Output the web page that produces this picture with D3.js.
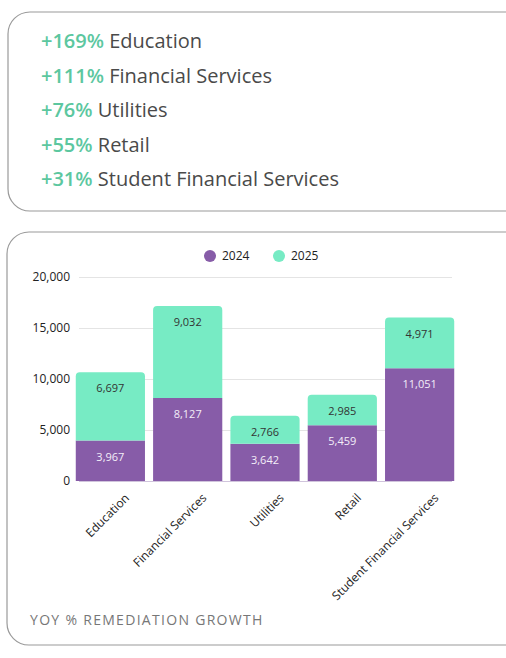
<!DOCTYPE html>
<html>
<head>
<meta charset="utf-8">
<script src="https://cdn.jsdelivr.net/npm/d3@7"></script>
<style>
  body { margin: 0; background: #fff; font-family: "Open Sans", sans-serif; }
</style>
</head>
<body>
<svg id="chart" width="506" height="658"></svg>
<script>
const categories = ['Education', 'Financial Services', 'Utilities', 'Retail', 'Student Financial Services'];
const values2024 = [3967, 8127, 3642, 5459, 11051];
const values2025 = [6697, 9032, 2766, 2985, 4971];
const growth = ['+169%', '+111%', '+76%', '+55%', '+31%'];
const yTicks = [0, 5000, 10000, 15000, 20000];

const svg = d3.select('#chart');
const purple = '#875ca8', green = '#77ebc4';

// cards
svg.append('rect').attr('x', 8).attr('y', 12).attr('width', 540).attr('height', 199)
  .attr('rx', 22).attr('fill', '#fff').attr('stroke', '#9a9a9a').attr('stroke-width', 1.2);
svg.append('rect').attr('x', 7).attr('y', 232).attr('width', 540).attr('height', 413)
  .attr('rx', 22).attr('fill', '#fff').attr('stroke', '#9a9a9a').attr('stroke-width', 1.2);

// growth list
const list = svg.append('g');
categories.forEach((c, i) => {
  const t = list.append('text').attr('x', 41).attr('y', 48 + i * 34.5)
    .attr('font-size', 20).attr('fill', '#4a4a4a');
  t.append('tspan').attr('fill', '#5cc79f').attr('font-weight', 600).text(growth[i]);
  t.append('tspan').text(' ' + c);
});

// chart
const x = d3.scaleBand().domain(categories).range([75, 455]).paddingInner(0.105).paddingOuter(0.01);
const y = d3.scaleLinear().domain([0, 20000]).range([481, 277]);

const grid = svg.append('g').attr('transform', 'translate(79,0)');
grid.call(d3.axisLeft(y).tickValues(yTicks).tickSize(-373).tickFormat(''))
  .call(g => g.select('.domain').remove())
  .call(g => g.selectAll('line').attr('stroke', '#e4e4e4'));

const yAxis = svg.append('g').attr('transform', 'translate(79,0)');
yAxis.call(d3.axisLeft(y).tickValues(yTicks).tickSize(0).tickPadding(9))
  .call(g => g.select('.domain').remove())
  .call(g => g.selectAll('text').attr('font-size', 12).attr('fill', '#222').attr('font-family', 'Open Sans'));

const stacks = d3.stack().keys(['a', 'b'])(categories.map((c, i) => ({ c, a: values2024[i], b: values2025[i] })));
const colors = [purple, green];

stacks.forEach((layer, li) => {
  const g = svg.append('g');
  layer.forEach(d => {
    const x0 = x(d.data.c), w = x.bandwidth();
    const top = y(d[1]), bot = y(d[0]);
    const r = li === 1 ? 4 : 0;
    g.append('path').attr('fill', colors[li])
      .attr('d', `M${x0},${bot}V${top + r}Q${x0},${top} ${x0 + r},${top}H${x0 + w - r}Q${x0 + w},${top} ${x0 + w},${top + r}V${bot}Z`);
    g.append('text').attr('x', x0 + w / 2).attr('y', top + 20).attr('text-anchor', 'middle')
      .attr('font-size', 11).attr('fill', li === 0 ? '#f3eef8' : '#333')
      .text(d3.format(',')(d[1] - d[0]));
  });
});

svg.append('line').attr('x1', 79).attr('x2', 452).attr('y1', 481.5).attr('y2', 481.5).attr('stroke', '#d0c4dc');

const xAxis = svg.append('g').attr('transform', 'translate(0,481)');
xAxis.call(d3.axisBottom(x).tickSize(0).tickPadding(8))
  .call(g => g.select('.domain').remove())
  .call(g => g.selectAll('text').attr('font-size', 12).attr('fill', '#222').attr('font-family', 'Open Sans')
    .attr('text-anchor', 'end').attr('transform', 'translate(8,6) rotate(-45)'));

// legend
[['2024', purple, 210], ['2025', green, 279]].forEach(([t, c, cx]) => {
  svg.append('circle').attr('cx', cx).attr('cy', 256).attr('r', 6).attr('fill', c);
  svg.append('text').attr('x', cx + 12).attr('y', 260).attr('font-size', 12).attr('fill', '#222').text(t);
});

svg.append('text').attr('x', 30).attr('y', 625).attr('font-size', 14).attr('fill', '#777')
  .attr('letter-spacing', 1.3).text('YOY % REMEDIATION GROWTH');
</script>
</body>
</html>
